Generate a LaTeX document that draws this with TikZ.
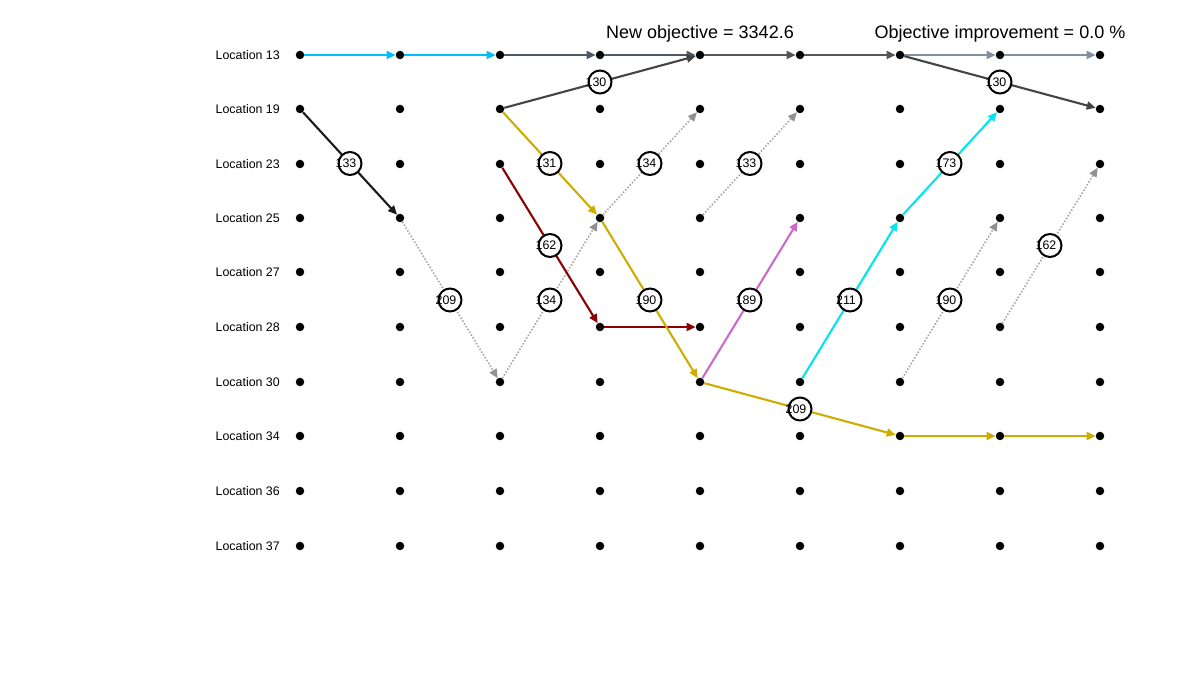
\documentclass[tikz,border=0pt]{standalone}
\usepackage{fontspec}
\setmainfont{Liberation Sans}
\usetikzlibrary{arrows.meta,calc}
\definecolor{dsky}{RGB}{0,191,255}
\definecolor{dkg}{RGB}{68,68,68}
\definecolor{mixg}{RGB}{74,90,102}
\definecolor{midg}{RGB}{85,85,85}
\definecolor{slateg}{RGB}{128,144,160}
\definecolor{dred}{RGB}{139,0,0}
\definecolor{goldc}{RGB}{205,173,0}
\definecolor{orch}{RGB}{205,105,201}
\definecolor{cyanc}{RGB}{0,229,238}
\definecolor{dotg}{RGB}{165,165,165}
\definecolor{dotgt}{RGB}{145,145,145}
\definecolor{blk}{RGB}{26,26,26}
\tikzset{
  dot/.style={circle,fill=black,inner sep=0pt,minimum size=8.5pt},
  locl/.style={anchor=east,font=\fontsize{12.4}{14}\selectfont,inner sep=0pt},
  edge/.style={line width=2.1pt,-{Triangle[length=9pt,width=8pt]}},
  dotedge/.style={line width=1.6pt,dotg,dash pattern=on 1.5pt off 1.8pt,-{Triangle[length=9pt,width=8pt,color=dotgt]}},
  lbl/.style={circle,draw=black,fill=white,line width=2pt,minimum size=23pt,inner sep=0pt,font=\fontsize{12.4}{14}\selectfont},
  ttl/.style={font=\fontsize{18}{20}\selectfont,inner sep=0pt}
}
\begin{document}
\begin{tikzpicture}[x=1pt,y=-1pt]
\useasboundingbox (0,0) rectangle (1200,700);
\fill[white] (0,0) rectangle (1200,700);
\node[ttl] (t1) at (700,34) {New objective = 3342.6};
\node[ttl] (t2) at (1000,34) {Objective improvement = 0.0 \%};
\foreach \r/\y/\loc in {1/55/13,2/109/19,3/164/23,4/218/25,5/272/27,6/327/28,7/382/30,8/436/34,9/491/36,10/546/37}{
  \node[locl] (L\r) at (280,\y) {Location \loc};
  \foreach \c in {1,...,9}{
    \node[dot] (p\c-\r) at ({200+100*\c},\y) {};
  }
}
% top row
\draw[edge,dsky] (p1-1) -- (p2-1);
\draw[edge,dsky] (p2-1) -- (p3-1);
\draw[edge,mixg] (p3-1) -- (p4-1);
\draw[edge,mixg] (p4-1) -- (p5-1);
\draw[edge,midg] (p5-1) -- (p6-1);
\draw[edge,midg] (p6-1) -- (p7-1);
\draw[edge,slateg] (p7-1) -- (p8-1);
\draw[edge,slateg] (p8-1) -- (p9-1);
\draw[edge,dkg] (p3-2) -- (p5-1);
\draw[edge,dkg] (p7-1) -- (p9-2);
% black
\draw[edge,blk] (p1-2) -- (p2-4);
% dotted
\draw[dotedge] (p2-4) -- (p3-7);
\draw[dotedge] (p3-7) -- (p4-4);
\draw[dotedge] (p4-4) -- (p5-2);
\draw[dotedge] (p5-4) -- (p6-2);
\draw[dotedge] (p7-7) -- (p8-4);
\draw[dotedge] (p8-6) -- (p9-3);
% red
\draw[edge,dred] (p3-3) -- (p4-6);
\draw[edge,dred] (p4-6) -- (p5-6);
% gold
\draw[edge,goldc] (p3-2) -- (p4-4);
\draw[edge,goldc] (p4-4) -- (p5-7);
\draw[edge,goldc] (p5-7) -- (p7-8);
\draw[edge,goldc] (p7-8) -- (p8-8);
\draw[edge,goldc] (p8-8) -- (p9-8);
% orchid
\draw[edge,orch] (p5-7) -- (p6-4);
% cyan
\draw[edge,cyanc] (p6-7) -- (p7-4);
\draw[edge,cyanc] (p7-4) -- (p8-2);
% labels
\foreach \a/\b/\t/\n in {p3-2/p5-1/130/a1, p7-1/p9-2/130/a2, p1-2/p2-4/133/a3, p2-4/p3-7/209/a4, p3-7/p4-4/134/a5, p4-4/p5-2/134/a6, p5-4/p6-2/133/a7, p7-7/p8-4/190/a8, p8-6/p9-3/162/a9, p3-3/p4-6/162/a10, p3-2/p4-4/131/a11, p4-4/p5-7/190/a12, p5-7/p7-8/209/a13, p5-7/p6-4/189/a14, p6-7/p7-4/211/a15, p7-4/p8-2/173/a16}{
  \node[lbl] (\n) at ($(\a)!0.5!(\b)$) {\hspace{-8pt}\t};
}
\end{tikzpicture}
\end{document}
